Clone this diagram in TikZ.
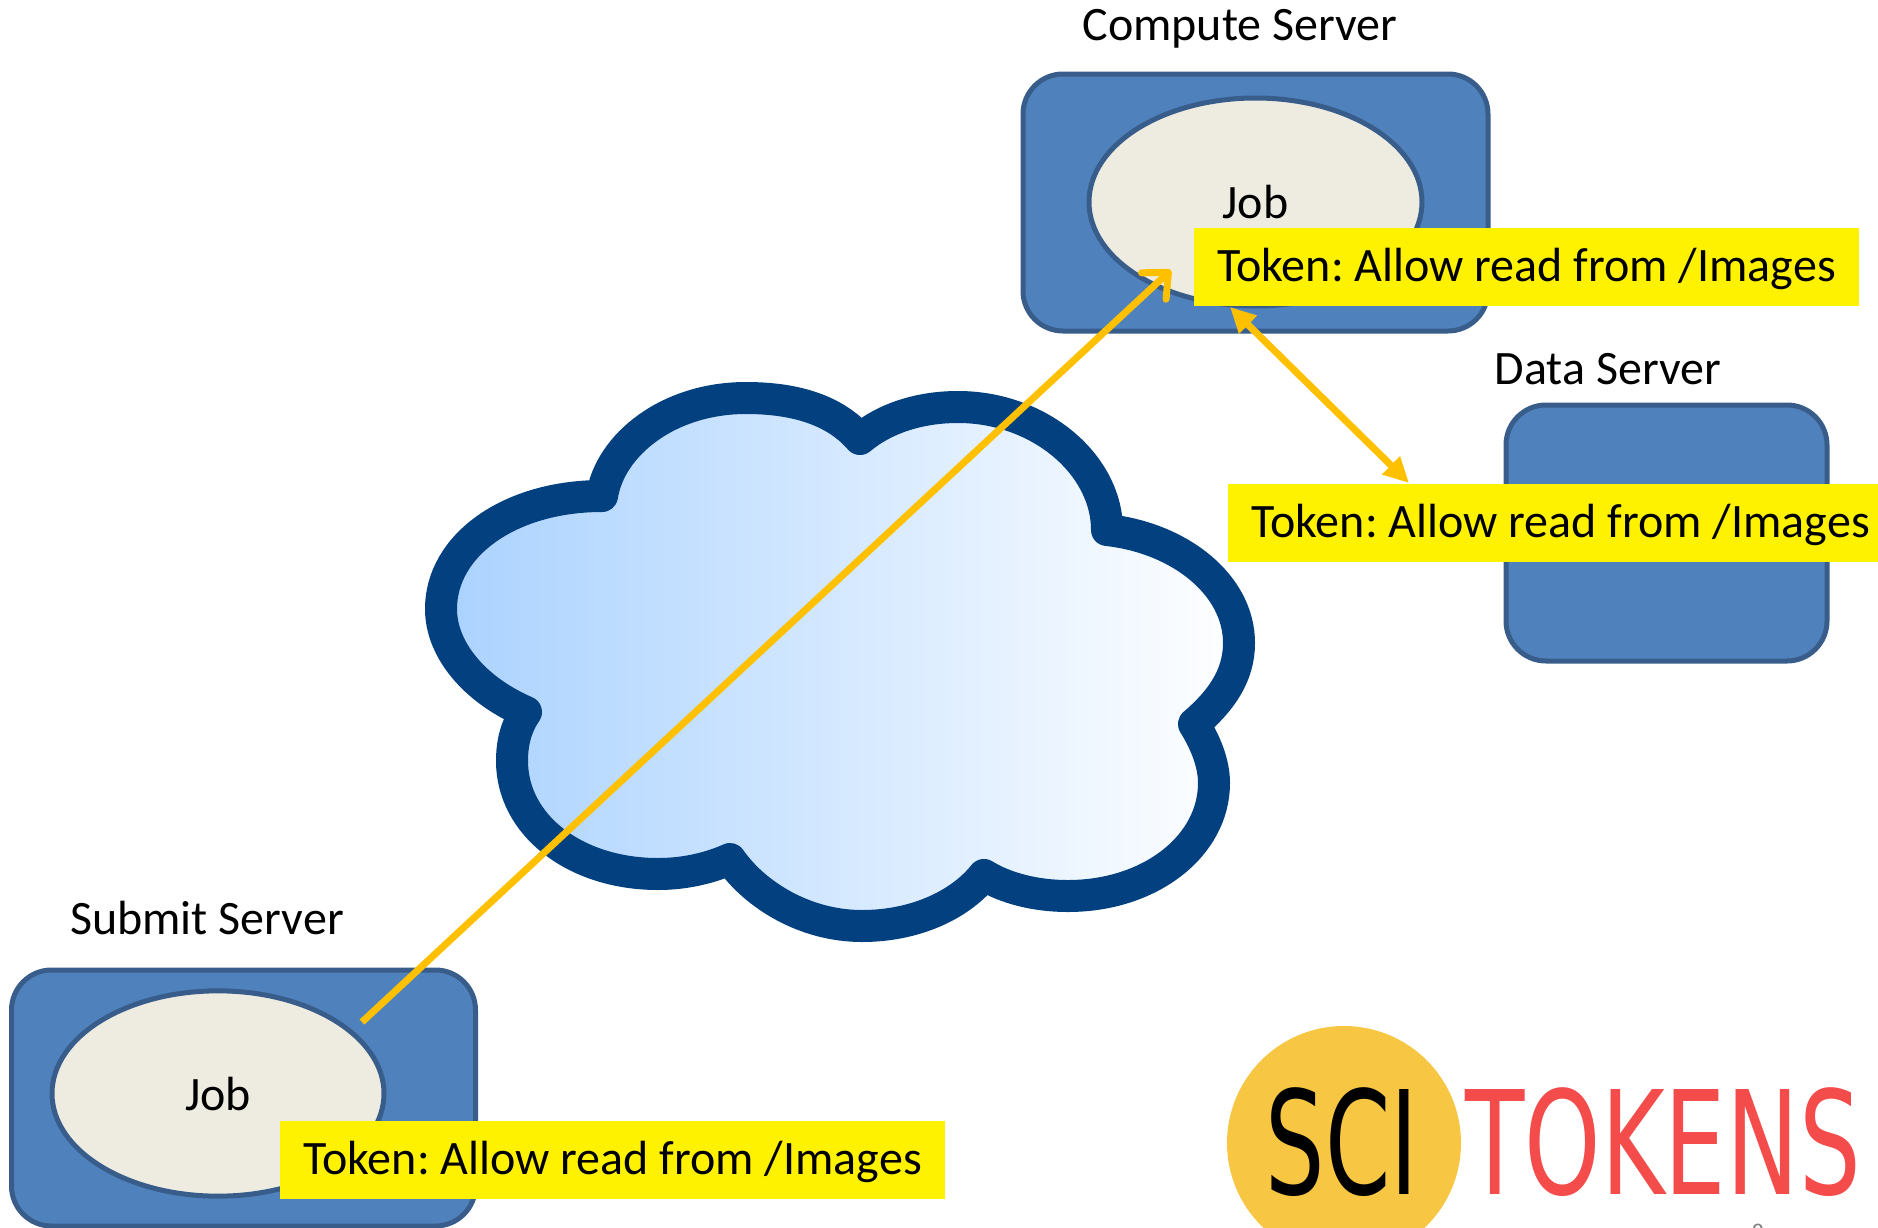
\documentclass[tikz,border=0pt]{standalone}
\usepackage{fontspec}
\usepackage{xcolor}
\setmainfont{Carlito}
\newfontfamily\logofont{DejaVu Sans}
\usetikzlibrary{shapes.geometric,arrows.meta}

\definecolor{boxfill}{HTML}{4F81BD}
\definecolor{boxline}{HTML}{385D8A}
\definecolor{jobfill}{HTML}{EEECE1}
\definecolor{arrowgold}{HTML}{FFC000}
\definecolor{cloudline}{HTML}{03407F}
\definecolor{cloudleft}{HTML}{AAD2FF}
\definecolor{cloudmid}{HTML}{CDE4FE}
\definecolor{logogold}{HTML}{F7C744}
\definecolor{logored}{HTML}{F44B4B}

\newcommand{\tokentext}{Token: Allow read from /Images\hspace{6pt}}

\tikzset{
  serverbox/.style={draw=boxline,fill=boxfill,line width=3.75pt,rounded corners=30pt,inner sep=0pt},
  jobellipse/.style={ellipse,draw=boxline,fill=jobfill,line width=3.75pt,inner sep=0pt,font=\fontsize{36}{42}\selectfont},
  tokenbox/.style={fill=yellow,inner sep=0pt,minimum width=498.75pt,minimum height=58.5pt,text height=30pt,text depth=8pt,font=\fontsize{36}{42}\selectfont\frenchspacing},
  serverlabel/.style={inner sep=0.75pt,font=\fontsize{36}{42}\selectfont},
  tokenline/.style={draw=arrowgold,line width=5.25pt}
}

\begin{document}
\begin{tikzpicture}[x=0.75pt,y=0.75pt,yscale=-1,xscale=1]
\useasboundingbox (0,0) rectangle (1878,1228);
\clip (0,0) rectangle (1878,1228);

% servers
\draw (1255.5,202.5) node (computebox) [serverbox,minimum width=348.75pt,minimum height=192.75pt] {};
\draw (1666.5,533) node (databox) [serverbox,minimum width=240.75pt,minimum height=192pt] {};
\draw (243.5,1098) node (submitbox) [serverbox,minimum width=348pt,minimum height=192pt] {};

\draw (1255.5,202) node (computejob) [jobellipse,minimum width=249.75pt,minimum height=156pt] {Job};
\draw (218,1093.5) node (submitjob) [jobellipse,minimum width=249pt,minimum height=154pt] {Job};

\draw (1240,29) node (computelabel) [serverlabel] {Compute Server};
\draw (1608,369) node (datalabel) [serverlabel] {Data Server};
\draw (207,918) node (submitlabel) [serverlabel] {Submit Server};

% tokens
\draw (1526.5,267) node (computetoken) [tokenbox] {\tokentext};
\draw (1560.5,523) node (datatoken) [tokenbox] {\tokentext};
\draw (612.5,1159.5) node (submittoken) [tokenbox] {\tokentext};

% cloud
\draw [cloudline,line width=24pt,line join=round,left color=cloudleft,middle color=cloudmid,right color=white]
  (860,439) .. controls (885,418) and (920,407) .. (958,407)
  .. controls (1040,407) and (1107,465) .. (1107,530)
  .. controls (1180,538) and (1239,585) .. (1239,643)
  .. controls (1239,675) and (1222,700) .. (1194,724)
  .. controls (1207,745) and (1214,765) .. (1214,783)
  .. controls (1214,846) and (1150,896) .. (1068,896)
  .. controls (1035,896) and (1005,888) .. (984,875)
  .. controls (960,905) and (915,926) .. (862,926)
  .. controls (805,926) and (755,895) .. (730,859)
  .. controls (710,868) and (685,874) .. (658,874)
  .. controls (575,874) and (512,825) .. (512,761)
  .. controls (512,745) and (515,728) .. (526,712)
  .. controls (475,690) and (441,650) .. (441,609)
  .. controls (441,545) and (510,496) .. (602,496)
  .. controls (610,445) and (668,398) .. (746,398)
  .. controls (795,398) and (835,410) .. (860,439) -- cycle;

% arrows
\coordinate (submitout) at (362,1022);
\coordinate (computein) at (1171,270);
\coordinate (computeend) at (1230,307);
\coordinate (dataend) at (1409,483);
\draw [tokenline,-{Straight Barb[round,length=15pt,width=27pt]}] (submitout) -- (computein);
\draw [tokenline,{Triangle[length=19pt,width=18pt]}-{Triangle[length=19pt,width=18pt]}] (computeend) -- (dataend);

% logo
\draw (1344,1143) node (logocircle) [circle,fill=logogold,inner sep=0pt,minimum size=175.5pt] {};
\draw (1342,1142) node (scitext) [inner sep=0pt,font=\logofont\fontsize{108}{108}\selectfont] {\scalebox{0.65}[1]{SCI}};
\draw (1663,1142) node (tokenstext) [inner sep=0pt,text=logored,font=\logofont\fontsize{108}{108}\selectfont] {\scalebox{0.675}[1]{TOKENS}};
\draw (1758,1232) node (pagenum) [inner sep=0pt,text=gray,font=\fontsize{18}{20}\selectfont] {8};

\end{tikzpicture}
\end{document}
